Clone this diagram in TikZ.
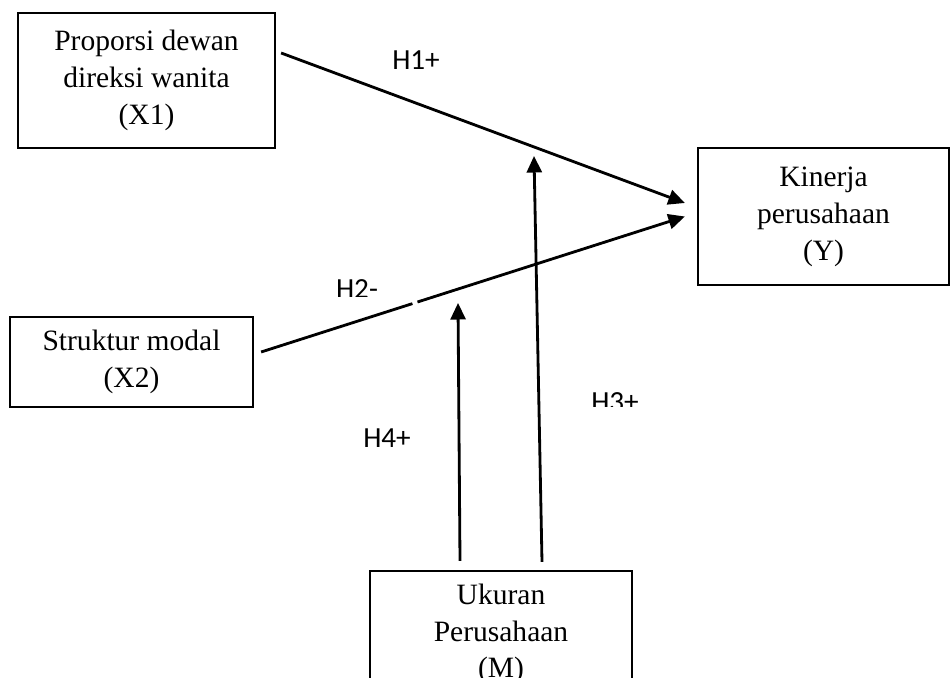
\documentclass[tikz,border=0pt]{standalone}
\usepackage{fontspec}
\setmainfont{Liberation Serif}
\newfontfamily\hypfont{Carlito}
\usepackage{tikz}
\usetikzlibrary{arrows.meta,calc}

\begin{document}
\begin{tikzpicture}[x=0.02cm,y=-0.02cm,
	varbox/.style={draw,line width=1.3pt,align=center,inner sep=0pt,font=\fontsize{16.8}{21}\selectfont},
	hyp/.style={font=\hypfont\fontsize{16.6}{20}\selectfont,inner sep=0pt},
	seg/.style={line width=1.6pt},
	arr/.style={seg,-{Triangle[length=0.33cm,width=0.3cm]}}]
	\useasboundingbox (0,0) rectangle (950,678);
	\node[varbox,minimum width=5.14cm,minimum height=2.7cm] (prop) at (146.5,80.5) {Proporsi dewan\\direksi wanita\\(X1)};
	\node[varbox,minimum width=4.86cm,minimum height=1.8cm] (struk) at (131.5,362) {Struktur modal\\(X2)};
	\node[varbox,minimum width=5.02cm,minimum height=2.74cm] (kin) at (823.5,216.5) {Kinerja\\perusahaan\\(Y)};
	\node[varbox,minimum width=5.24cm,minimum height=2.52cm] (ukur) at (501,634) {Ukuran\\Perusahaan\\(M)};
	\coordinate (s1) at ($(prop.east)+(5,-27.5)$);
	\coordinate (e1) at ($(kin.west)+(-12,-13.5)$);
	\coordinate (s2) at ($(struk.east)+(7,-10)$);
	\coordinate (e2) at ($(kin.west)+(-12,0)$);
	\coordinate (t3) at (534,156);
	\coordinate (t4) at (458,303);
	\draw[arr] (s1) -- (e1);
	\draw[seg] (s2) -- ($(s2)!0.357!(e2)$);
	\draw[arr] ($(s2)!0.369!(e2)$) -- (e2);
	\draw[arr] ($(ukur.north)+(-41,-9)$) -- (t4);
	\draw[arr] ($(ukur.north)+(41,-8)$) -- (t3);
	\node[hyp] (h1) at (416,60) {H1+};
	\node[hyp] (h4) at (387,438) {H4+};
	\begin{scope}
		\clip (300,260) rectangle (420,297);
		\node[hyp] (h2) at (357,289.5) {H2-};
	\end{scope}
	\begin{scope}
		\clip (570,380) rectangle (660,407);
		\node[hyp] (h3) at (615,402.5) {H3+};
	\end{scope}
\end{tikzpicture}
\end{document}
